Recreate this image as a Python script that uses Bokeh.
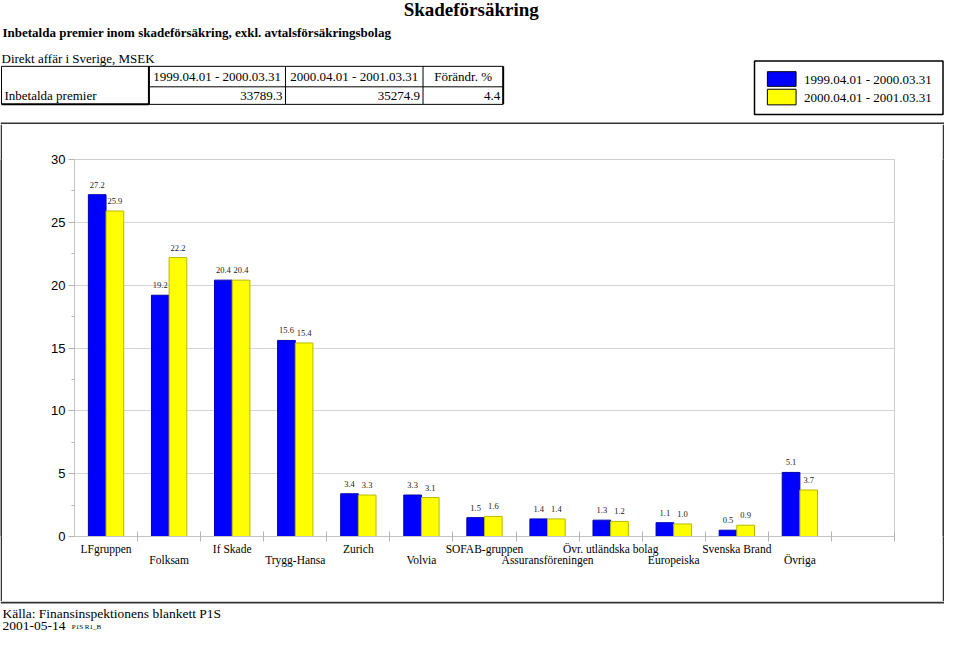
from bokeh.plotting import figure
from bokeh.models import Range1d, ColumnDataSource, LinearAxis, FixedTicker, SingleIntervalTicker
from bokeh.layouts import column, row
from bokeh.core.properties import value
from bokeh.embed import file_html
from bokeh.resources import INLINE

# ---------------- data ----------------
categories = ["LFgruppen", "Folksam", "If Skade", "Trygg-Hansa", "Zurich", "Volvia",
              "SOFAB-gruppen", "Assuransföreningen", "Övr. utländska bolag",
              "Europeiska", "Svenska Brand", "Övriga"]
period_1 = "1999.04.01 - 2000.03.31"
period_2 = "2000.04.01 - 2001.03.31"
share_1999 = [27.2, 19.2, 20.4, 15.6, 3.4, 3.3, 1.5, 1.4, 1.3, 1.1, 0.5, 5.1]
share_2000 = [25.9, 22.2, 20.4, 15.4, 3.3, 3.1, 1.6, 1.4, 1.2, 1.0, 0.9, 3.7]
total_1999 = 33789.3
total_2000 = 35274.9
change_pct = 4.4
y_ticks_interval = 5
y_max = 30

title_main = "Skadeförsäkring"
title_sub = "Inbetalda premier inom skadeförsäkring, exkl. avtalsförsäkringsbolag"
title_unit = "Direkt affär i Sverige, MSEK"
row_label = "Inbetalda premier"
change_label = "Förändr. %"
source_text = "Källa: Finansinspektionens blankett P1S"
date_text = "2001-05-14"
code_text = "P1S R1_B"

# ---------------- layout helpers ----------------
W, H = 944, 633


def fx(rx):
    return (rx - 3) * W / 954.0


def fy(ry):
    return ry * H / 649.0


SERIF = value("Liberation Serif")
DARK = "#333333"
BLUE = "#0000ff"
YELLOW = "#ffff00"

H1 = int(round(fy(127)))
H3 = 32
H2 = H - H1 - H3


def canvas(w, h, bg="white"):
    p = figure(width=w, height=h, x_range=Range1d(0, w), y_range=Range1d(h, 0),
               output_backend="svg", toolbar_location=None, min_border=0,
               x_axis_location=None, y_axis_location=None, outline_line_color=None)
    p.grid.visible = False
    p.background_fill_color = bg
    p.border_fill_color = bg
    return p


# ---------------- header ----------------
hdr = canvas(W, H1)
hdr.text(x=[fx(547)], y=[fy(9)], text=[title_main], text_font=SERIF, text_font_style="bold",
         text_font_size="19px", text_align="right", text_baseline="middle", text_color="black")
hdr.text(x=[fx(5)], y=[fy(33)], text=[title_sub], text_font=SERIF, text_font_style="bold",
         text_font_size="13px", text_align="left", text_baseline="middle", text_color="black")
hdr.text(x=[fx(4)], y=[fy(59)], text=[title_unit], text_font=SERIF,
         text_font_size="13px", text_align="left", text_baseline="middle", text_color="black")

# table
tl, c1, c2, c3, tr = fx(4), fx(153), fx(291), fx(430), fx(511)
yt, ym, yb = fy(67.5), fy(88.5), fy(106.5)
hdr.segment(x0=[tl, c1, tl, c2, c3, c1], y0=[yt, ym, yt, yt, yt, yb],
            x1=[tr, tr, tl, c2, c3, tr], y1=[yt, ym, yb, yb, yb, yb],
            line_color="black", line_width=1)
hdr.segment(x0=[tl, c1, tr], y0=[yb, yt, yt], x1=[c1, c1, tr], y1=[yb, yb, yb],
            line_color="black", line_width=2)
yh, yr = fy(78), fy(97.5)
hdr.text(x=[(c1 + c2) / 2, (c2 + c3) / 2, (c3 + tr) / 2], y=[yh] * 3,
         text=[period_1, period_2, change_label], text_font=SERIF, text_font_size="13px",
         text_align="center", text_baseline="middle", text_color="black")
hdr.text(x=[fx(7)], y=[yr], text=[row_label], text_font=SERIF, text_font_size="13px",
         text_align="left", text_baseline="middle", text_color="black")
hdr.text(x=[fx(288), fx(427), fx(508)], y=[yr] * 3,
         text=[f"{total_1999:.1f}", f"{total_2000:.1f}", f"{change_pct:.1f}"],
         text_font=SERIF, text_font_size="13px", text_align="right", text_baseline="middle",
         text_color="black")

# legend
hdr.quad(left=[fx(765)], right=[W - 1.5], top=[fy(62)], bottom=[fy(117)],
         fill_color=None, line_color="black", line_width=1.5)
hdr.quad(left=[fx(778)] * 2, right=[fx(807)] * 2, top=[fy(73), fy(91)], bottom=[fy(88), fy(107)],
         fill_color=[BLUE, YELLOW], line_color="black", line_width=1)
hdr.text(x=[fx(815)] * 2, y=[fy(80.5), fy(99)], text=[period_1, period_2], text_font=SERIF,
         text_font_size="13px", text_align="left", text_baseline="middle", text_color="black")

# top of outer frame
hdr.quad(left=[0], right=[W], top=[H1 - 2], bottom=[H1], fill_color=DARK, line_color=None)

# ---------------- chart ----------------
n = len(categories)
ch = figure(width=W - 4, height=H2, x_range=Range1d(0, n + 1), y_range=Range1d(0, y_max),
            output_backend="svg", toolbar_location=None,
            min_border_left=72, min_border_right=48, min_border_top=35, min_border_bottom=65,
            x_axis_location=None, y_axis_location="left")
ch.background_fill_color = "white"
ch.border_fill_color = "white"
ch.outline_line_color = "#cfcfcf"
ch.xgrid.visible = False
ch.ygrid.grid_line_color = "#d4d4d4"
ch.ygrid.ticker = SingleIntervalTicker(interval=y_ticks_interval)

ya = ch.yaxis[0]
ya.ticker = SingleIntervalTicker(interval=y_ticks_interval, num_minor_ticks=2)
ya.axis_line_color = "#c4c4c4"
ya.major_tick_line_color = "#b4b4b4"
ya.minor_tick_line_color = "#b4b4b4"
ya.major_tick_out = 6
ya.major_tick_in = 0
ya.minor_tick_out = 3
ya.minor_tick_in = 0
ya.major_label_standoff = 3
ya.major_label_text_font = "Liberation Sans"
ya.major_label_text_font_size = "13px"
ya.major_label_text_color = "black"

centers = [i + 0.5 for i in range(n)]
bounds = list(range(0, n + 2))

axA = LinearAxis(ticker=FixedTicker(ticks=centers[0::2], minor_ticks=bounds[1:]),
                 major_label_overrides={c: categories[i] for i, c in enumerate(centers) if i % 2 == 0})
axA.axis_line_color = "#c4c4c4"
axA.major_tick_line_color = None
axA.major_tick_out = 0
axA.major_tick_in = 0
axA.minor_tick_line_color = "#b4b4b4"
axA.minor_tick_in = 5
axA.minor_tick_out = 5
axA.major_label_standoff = 1
axA.major_label_text_font = "Liberation Serif"
axA.major_label_text_font_size = "11.5px"
axA.major_label_text_color = "black"

axB = LinearAxis(ticker=FixedTicker(ticks=centers[1::2], minor_ticks=[]),
                 major_label_overrides={c: categories[i] for i, c in enumerate(centers) if i % 2 == 1})
axB.axis_line_color = None
axB.major_tick_line_color = None
axB.minor_tick_line_color = None
axB.major_tick_out = 0
axB.major_tick_in = 0
axB.major_label_standoff = -4
axB.major_label_text_font = "Liberation Serif"
axB.major_label_text_font_size = "11.5px"
axB.major_label_text_color = "black"

ch.add_layout(axA, "below")
ch.add_layout(axB, "below")

bw = 0.28
src = ColumnDataSource(dict(
    x1=[c - bw / 2 for c in centers],
    x2=[c + bw / 2 for c in centers],
    v1=share_1999,
    v2=share_2000,
    l1=[f"{v:.1f}" for v in share_1999],
    l2=[f"{v:.1f}" for v in share_2000],
))
ch.vbar(x="x1", top="v1", bottom=0, width=bw, fill_color=BLUE, line_color="#0000b0",
        line_width=1, source=src)
ch.vbar(x="x2", top="v2", bottom=0, width=bw, fill_color=YELLOW, line_color="#b8b800",
        line_width=1, source=src)
for xc, yc, lc in (("x1", "v1", "l1"), ("x2", "v2", "l2")):
    ch.text(x=xc, y=yc, text=lc, source=src, text_font=SERIF, text_font_size="8.5px",
            text_align="center", text_baseline="middle", y_offset=-10, text_color="#222222")

# outer frame sides
sl = canvas(2, H2, bg=DARK)
sr = canvas(2, H2, bg=DARK)

# ---------------- footer ----------------
ftr = canvas(W, H3)
ftr.quad(left=[0], right=[W], top=[0], bottom=[2], fill_color=DARK, line_color=None)
ftr.text(x=[fx(5)], y=[12], text=[source_text], text_font=SERIF, text_font_size="13.5px",
         text_align="left", text_baseline="middle", text_color="black")
ftr.text(x=[fx(5)], y=[24], text=[date_text], text_font=SERIF, text_font_size="13.5px",
         text_align="left", text_baseline="middle", text_color="black")
ftr.text(x=[fx(75)], y=[25.5], text=[code_text], text_font=SERIF, text_font_size="7px",
         text_align="left", text_baseline="middle", text_color="black")

layout = column(hdr, row(sl, ch, sr), ftr)

with open("out.html", "w") as f:
    f.write(file_html(layout, INLINE))
